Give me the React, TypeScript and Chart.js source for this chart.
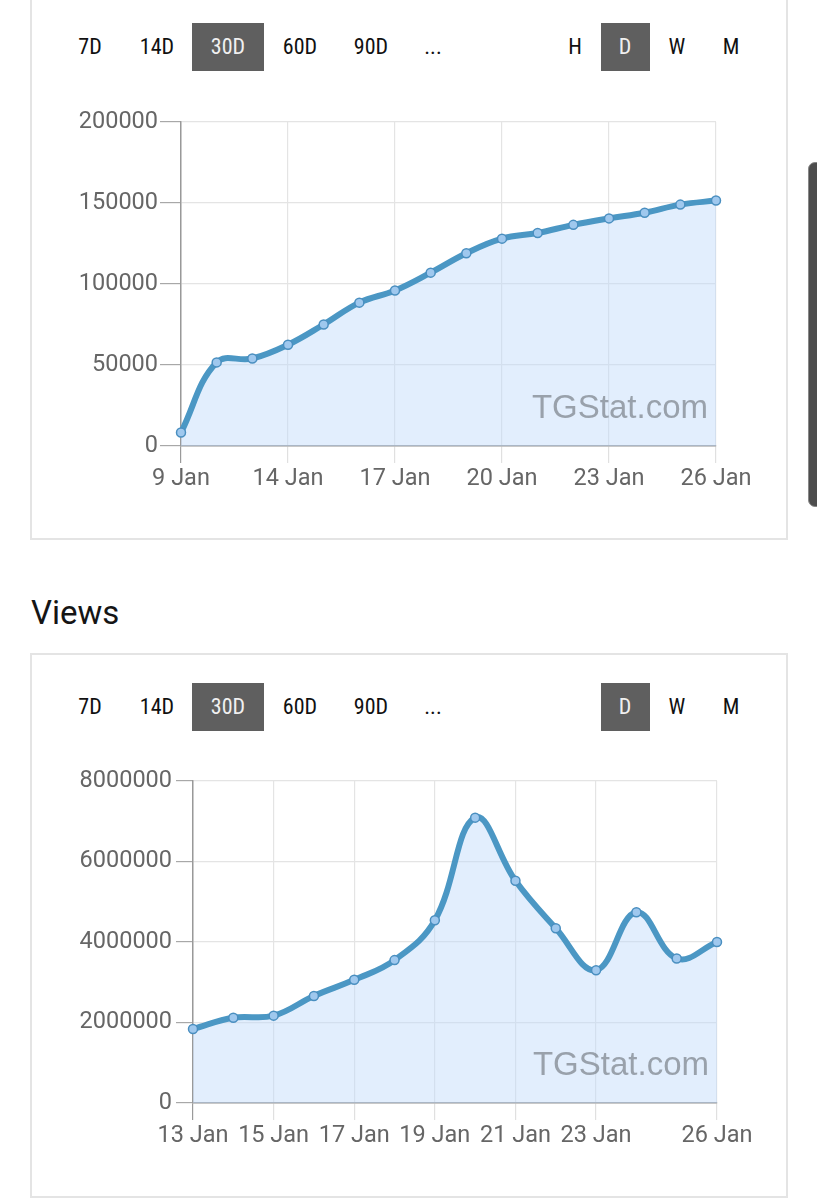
import React, { useEffect, useRef } from 'react';
import { Chart, registerables } from 'chart.js';

Chart.register(...registerables);

// ---- Subscribers chart data ----
const subsDates = ['11 Jan', '12 Jan', '13 Jan', '14 Jan', '15 Jan', '16 Jan', '17 Jan', '18 Jan', '19 Jan', '20 Jan', '21 Jan', '22 Jan', '23 Jan', '24 Jan', '25 Jan', '26 Jan'];
const subsTickLabels = ['9 Jan', '', '', '14 Jan', '', '', '17 Jan', '', '', '20 Jan', '', '', '23 Jan', '', '', '26 Jan'];
const subsValues = [8300, 51600, 54000, 62500, 75000, 88500, 96000, 107000, 119000, 128000, 131500, 136500, 140500, 144000, 149000, 151500];
const subsYTicks = [0, 50000, 100000, 150000, 200000];

// ---- Views chart data ----
const viewsDates = ['13 Jan', '14 Jan', '15 Jan', '16 Jan', '17 Jan', '18 Jan', '19 Jan', '20 Jan', '21 Jan', '22 Jan', '23 Jan', '24 Jan', '25 Jan', '26 Jan'];
const viewsTickLabels = ['13 Jan', '', '15 Jan', '', '17 Jan', '', '19 Jan', '', '21 Jan', '', '23 Jan', '', '', '26 Jan'];
const viewsValues = [1840000, 2120000, 2170000, 2660000, 3060000, 3550000, 4540000, 7090000, 5520000, 4340000, 3300000, 4740000, 3590000, 4000000];
const viewsYTicks = [0, 2000000, 4000000, 6000000, 8000000];

const rangeButtons = ['7D', '14D', '30D', '60D', '90D', '...'];
const rangeCenters = [90, 157, 228, 300, 371, 433];
const intervalCenters: Record<string, number> = { H: 575, D: 625, W: 677, M: 731 };

const watermark = {
  id: 'watermark',
  afterDatasetsDraw(chart: any) {
    const { ctx, chartArea } = chart;
    ctx.save();
    ctx.font = '33px "Liberation Sans", Arial, sans-serif';
    ctx.fillStyle = 'rgba(125,132,140,0.72)';
    ctx.textAlign = 'right';
    ctx.textBaseline = 'alphabetic';
    ctx.fillText('TGStat.com', chartArea.right - 8, chartArea.bottom - 28);
    ctx.restore();
  },
};

function buildConfig(
  dates: string[],
  tickLabels: string[],
  values: number[],
  yTicks: number[],
  yWidth: number,
  padTop: number,
  padRight: number,
  xHeight: number,
  yTickLen: number,
  yPad: number
): any {
  return {
    type: 'line',
    data: {
      labels: dates,
      datasets: [
        {
          data: values,
          borderColor: '#4b97c4',
          borderWidth: 6,
          backgroundColor: 'rgba(190,218,250,0.45)',
          fill: 'origin',
          tension: 0.4,
          pointRadius: 4.5,
          pointBorderWidth: 1.5,
          pointBorderColor: '#4a8fc0',
          pointBackgroundColor: '#9fc8ee',
          clip: false,
        },
      ],
    },
    options: {
      animation: false,
      responsive: false,
      devicePixelRatio: 1,
      layout: { padding: { top: padTop, right: padRight, left: 0, bottom: 0 } },
      plugins: { legend: { display: false }, tooltip: { enabled: false } },
      scales: {
        x: {
          type: 'category',
          offset: false,
          afterFit: (scale: any) => {
            scale.height = xHeight;
          },
          grid: {
            color: '#e4e4e4',
            lineWidth: 1.2,
            tickLength: 17,
            tickColor: (ctx: any) => (ctx.index === 0 ? '#9a9a9a' : '#e0e0e0'),
          },
          border: { color: '#999', width: 1.5 },
          ticks: {
            autoSkip: false,
            maxRotation: 0,
            padding: 2,
            color: '#666',
            font: { family: 'Roboto', size: 23.5 },
            callback: (_v: any, i: number) => (tickLabels[i] ? tickLabels[i] : null),
          },
        },
        y: {
          min: yTicks[0],
          max: yTicks[yTicks.length - 1],
          afterFit: (scale: any) => {
            scale.width = yWidth;
          },
          afterBuildTicks: (scale: any) => {
            scale.ticks = yTicks.map((v) => ({ value: v }));
          },
          grid: {
            color: '#e4e4e4',
            lineWidth: 1.2,
            tickLength: yTickLen,
            tickColor: '#a8a8a8',
          },
          border: { color: '#999', width: 1.5 },
          ticks: {
            padding: yPad,
            color: '#666',
            font: { family: 'Roboto', size: 23.5 },
            callback: (v: any) => String(v),
          },
        },
      },
    },
    plugins: [watermark],
  };
}

function LineChart(props: {
  cfg: () => any;
  left: number;
  top: number;
  width: number;
  height: number;
}) {
  const ref = useRef<HTMLCanvasElement | null>(null);
  useEffect(() => {
    if (!ref.current) return;
    const chart = new Chart(ref.current, props.cfg());
    return () => chart.destroy();
  }, []);
  return (
    <canvas
      ref={ref}
      width={props.width}
      height={props.height}
      style={{
        position: 'absolute',
        left: props.left,
        top: props.top,
        width: props.width,
        height: props.height,
        display: 'block',
      }}
    />
  );
}

const btnFont = '"Roboto Condensed", "Liberation Sans Narrow", "DejaVu Sans Condensed", Roboto, sans-serif';

function ButtonRow(props: { top: number; intervals: string[] }) {
  const items: any[] = [];
  const common = {
    position: 'absolute' as const,
    top: props.top,
    height: 48,
    lineHeight: '48px',
    textAlign: 'center' as const,
    fontFamily: btnFont,
    fontStretch: 'condensed',
    fontSize: 22,
  };
  rangeButtons.forEach((b, i) => {
    const active = b === '30D';
    items.push(
      <div
        key={'r' + b}
        style={{
          ...common,
          left: rangeCenters[i] - 36,
          width: 72,
          background: active ? '#5f5f5f' : 'transparent',
          color: active ? '#f0f0f0' : '#111',
        }}
      >
        {b}
      </div>
    );
  });
  props.intervals.forEach((b) => {
    const active = b === 'D';
    items.push(
      <div
        key={'i' + b}
        style={{
          ...common,
          left: intervalCenters[b] - 24.5,
          width: 49,
          background: active ? '#5f5f5f' : 'transparent',
          color: active ? '#f0f0f0' : '#111',
        }}
      >
        {b}
      </div>
    );
  });
  return <>{items}</>;
}

export default function App() {
  return (
    <div
      style={{
        position: 'absolute',
        left: 0,
        top: 0,
        width: 817,
        height: 1200,
        overflow: 'hidden',
        background: '#fff',
        fontFamily: 'Roboto, sans-serif',
      }}
    >
      {/* Panel 1 */}
      <div
        style={{
          position: 'absolute',
          left: 30,
          top: -30,
          width: 758,
          height: 570,
          border: '2px solid #e4e4e4',
          boxSizing: 'border-box',
        }}
      />
      <ButtonRow top={23} intervals={['H', 'D', 'W', 'M']} />
      <LineChart
        left={31}
        top={100}
        width={757}
        height={440}
        cfg={() => buildConfig(subsDates, subsTickLabels, subsValues, subsYTicks, 150, 22, 72, 94, 21, 2)}
      />

      {/* Scrollbar */}
      <div
        style={{
          position: 'absolute',
          left: 808,
          top: 162,
          width: 20,
          height: 345,
          background: '#4d4d4d',
          borderRadius: 7,
          border: '1px solid #888',
          boxSizing: 'border-box',
        }}
      />

      {/* Views heading */}
      <div
        style={{
          position: 'absolute',
          left: 31,
          top: 597,
          fontSize: 33,
          lineHeight: '32px',
          color: '#151515',
          fontFamily: 'Roboto, sans-serif',
        }}
      >
        Views
      </div>

      {/* Panel 2 */}
      <div
        style={{
          position: 'absolute',
          left: 30,
          top: 653,
          width: 758,
          height: 545,
          border: '2px solid #e4e4e4',
          boxSizing: 'border-box',
        }}
      />
      <ButtonRow top={683} intervals={['D', 'W', 'M']} />
      <LineChart
        left={31}
        top={760}
        width={757}
        height={437}
        cfg={() => buildConfig(viewsDates, viewsTickLabels, viewsValues, viewsYTicks, 162, 21, 71, 94, 17, 4)}
      />
    </div>
  );
}
